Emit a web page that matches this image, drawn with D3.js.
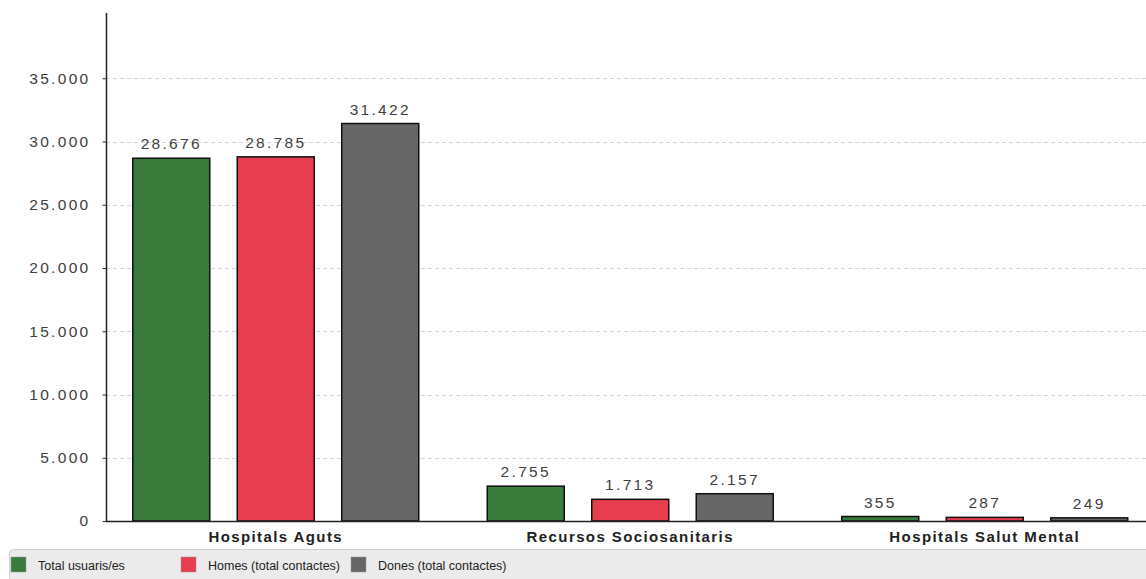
<!DOCTYPE html>
<html>
<head>
<meta charset="utf-8">
<script src="https://cdn.jsdelivr.net/npm/d3@7"></script>
<style>
  html, body { margin: 0; padding: 0; background: #fff; }
  svg { display: block; }
</style>
</head>
<body>
<svg id="chart" width="1146" height="579"></svg>
<script>
const categories = ["Hospitals Aguts", "Recursos Sociosanitaris", "Hospitals Salut Mental"];
const seriesNames = ["Total usuaris/es", "Homes (total contactes)", "Dones (total contactes)"];
const seriesColors = ["#3a7a3a", "#e63e4e", "#666666"];
const totalUsuaris = [28676, 2755, 355];
const homes = [28785, 1713, 287];
const dones = [31422, 2157, 249];
const yTicks = [0, 5000, 10000, 15000, 20000, 25000, 30000, 35000];

const series = [totalUsuaris, homes, dones];
const fmt = v => d3.format(",")(v).replace(/,/g, ".");

const svg = d3.select("#chart");
const axisX = 106, axisTop = 13, axisBottom = 521, rightEdge = 1146;

const y = d3.scaleLinear().domain([0, 40000]).range([axisBottom, 15]);
const x0 = d3.scaleBand().domain(categories).range([98.5, 1162]).padding(0);
const x1 = d3.scaleBand().domain(d3.range(3)).range([-143, 143]).paddingInner(0.263).paddingOuter(0);

// gridlines
svg.append("g").selectAll("line").data(yTicks.filter(d => d > 0)).join("line")
  .attr("x1", axisX).attr("x2", rightEdge)
  .attr("y1", d => Math.round(y(d)) + 0.5).attr("y2", d => Math.round(y(d)) + 0.5)
  .attr("stroke", "#d4d4d4").attr("stroke-width", 1).attr("stroke-dasharray", "4,3");

// y axis
const yAxis = d3.axisLeft(y).tickValues(yTicks).tickSize(4).tickPadding(12).tickFormat(fmt);
const gy = svg.append("g").attr("transform", `translate(${axisX + 0.5},0)`).call(yAxis);
gy.select(".domain").remove();
gy.selectAll(".tick line").attr("stroke", "#333");
gy.selectAll(".tick text")
  .attr("font-family", "Liberation Sans, Arial, sans-serif")
  .attr("font-size", 15.5).attr("letter-spacing", "2.3px")
  .attr("fill", "#404040");
svg.append("line").attr("x1", axisX + 0.5).attr("x2", axisX + 0.5)
  .attr("y1", axisTop).attr("y2", axisBottom).attr("stroke", "#222").attr("stroke-width", 1.5);

// bars
const groups = svg.append("g").selectAll("g").data(categories).join("g")
  .attr("transform", d => `translate(${x0(d) + x0.bandwidth() / 2},0)`);

groups.each(function(cat, ci) {
  const g = d3.select(this);
  series.forEach((s, si) => {
    const v = s[ci];
    g.append("rect")
      .attr("x", x1(si)).attr("width", x1.bandwidth())
      .attr("y", y(v)).attr("height", axisBottom - y(v))
      .attr("fill", seriesColors[si]).attr("stroke", "#111").attr("stroke-width", 1.5);
    g.append("text")
      .attr("x", x1(si) + x1.bandwidth() / 2).attr("y", y(v) - 9)
      .attr("text-anchor", "middle")
      .attr("font-family", "Liberation Sans, Arial, sans-serif")
      .attr("font-size", 15.5).attr("letter-spacing", "2.3px")
      .attr("fill", "#404040").text(fmt(v));
  });
  g.append("text")
    .attr("x", 0).attr("y", 542)
    .attr("text-anchor", "middle")
    .attr("font-family", "Liberation Sans, Arial, sans-serif")
    .attr("font-size", 15).attr("font-weight", "bold").attr("letter-spacing", "1.4px")
    .attr("fill", "#222").text(cat);
});

// x axis line
svg.append("line").attr("x1", axisX).attr("x2", rightEdge)
  .attr("y1", axisBottom + 0.5).attr("y2", axisBottom + 0.5).attr("stroke", "#222").attr("stroke-width", 1.5);

// legend
svg.append("rect").attr("x", 9.5).attr("y", 549.5).attr("width", 1150).attr("height", 40)
  .attr("rx", 4).attr("fill", "#ebebeb").attr("stroke", "#cfcfcf");
const legend = svg.append("g").selectAll("g").data(seriesNames).join("g")
  .attr("transform", (d, i) => `translate(${11 + i * 170},557)`);
legend.append("rect").attr("width", 15).attr("height", 15)
  .attr("fill", (d, i) => seriesColors[i]).attr("stroke", "#999").attr("stroke-width", 0.5);
legend.append("text").attr("x", 27).attr("y", 13)
  .attr("font-family", "Liberation Sans, Arial, sans-serif").attr("font-size", 12.5)
  .attr("fill", "#222").text(d => d);
</script>
</body>
</html>
